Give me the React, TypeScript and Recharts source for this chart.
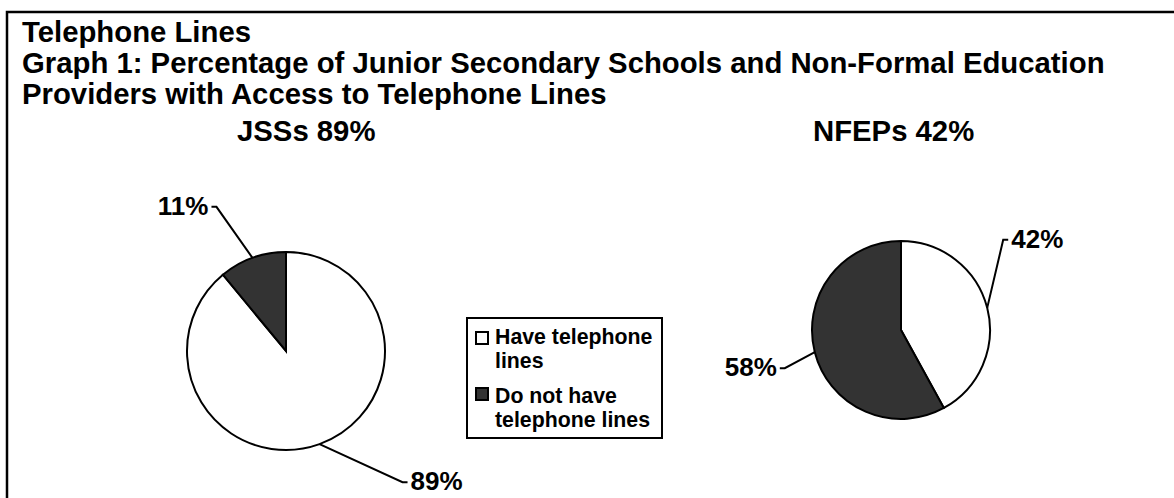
import { Pie, PieChart, Cell } from "recharts";

/* Two Excel-style pies with leader-line labels, boxed legend in the middle. */

const titleLines = [
  "Telephone Lines",
  "Graph 1: Percentage of Junior Secondary Schools and Non-Formal Education",
  "Providers with Access to Telephone Lines",
];
const pieTitles = ["JSSs 89%", "NFEPs 42%"];
const categories = ["Have telephone lines", "Do not have telephone lines"];
const legendLines = [["Have telephone", "lines"], ["Do not have", "telephone lines"]];
const jssValues = [89, 11];
const nfepValues = [42, 58];

const FILLS = ["#FFFFFF", "#333333"];
const FONT = "'Liberation Sans', Arial, sans-serif";
const RAD = Math.PI / 180;

const jssData = categories.map((name, i) => ({ name, value: jssValues[i] }));
const nfepData = categories.map((name, i) => ({ name, value: nfepValues[i] }));

// where each label's leader line bends, relative to the slice edge
const jssLeaders = [
  { dx: 83, dy: 38 },
  { dx: -36, dy: -51 },
];
const nfepLeaders = [
  { dx: 16, dy: -68 },
  { dx: -30, dy: 16 },
];

function leaderLabel(leaders: { dx: number; dy: number }[]) {
  return (props: any) => {
    const { cx, cy, midAngle, outerRadius, index, value } = props;
    const x0 = cx + outerRadius * Math.cos(-midAngle * RAD);
    const y0 = cy + outerRadius * Math.sin(-midAngle * RAD);
    const { dx, dy } = leaders[index];
    const x1 = x0 + dx;
    const y1 = y0 + dy;
    const dir = dx >= 0 ? 1 : -1;
    const x2 = x1 + dir * 5;
    return (
      <g>
        <polyline points={`${x0},${y0} ${x1},${y1} ${x2},${y1}`} fill="none" stroke="#000" strokeWidth={2} />
        <text
          x={x2 + dir * 3}
          y={y1 + 8}
          textAnchor={dir > 0 ? "start" : "end"}
          fontFamily={FONT}
          fontWeight={700}
          fontSize={26}
          fill="#000"
        >
          {value}%
        </text>
      </g>
    );
  };
}

export default function App() {
  return (
    <div style={{ position: "absolute", left: 0, top: 0, width: 1174, height: 498, background: "#fff" }}>
      <svg width={1174} height={498} style={{ position: "absolute", left: 0, top: 0 }}>
        <path d="M7,498 L7,12 L1174,12" fill="none" stroke="#000" strokeWidth={2.5} />
        {titleLines.map((t, i) => (
          <text key={t} x={22} y={42 + i * 31} fontFamily={FONT} fontWeight={700} fontSize={29.3} fill="#000">
            {t}
          </text>
        ))}
        <text x={237} y={141} fontFamily={FONT} fontWeight={700} fontSize={29.3} fill="#000">
          {pieTitles[0]}
        </text>
        <text x={813} y={141} fontFamily={FONT} fontWeight={700} fontSize={29.3} fill="#000">
          {pieTitles[1]}
        </text>
        <rect x={467} y={318} width={195} height={120} fill="#fff" stroke="#000" strokeWidth={2} />
        {legendLines.map((lines, i) => (
          <g key={i}>
            <rect x={476} y={332 + i * 56} width={12} height={12} fill={FILLS[i]} stroke="#000" strokeWidth={2} />
            {lines.map((l, j) => (
              <text key={l} x={495} y={344 + i * 59 + j * 24} fontFamily={FONT} fontWeight={700} fontSize={21.3} fill="#000">
                {l}
              </text>
            ))}
          </g>
        ))}
      </svg>
      <div style={{ position: "absolute", left: 0, top: 0 }}>
        <PieChart width={1174} height={498} margin={{ top: 0, right: 0, bottom: 0, left: 0 }}>
          <Pie
            data={jssData}
            dataKey="value"
            cx={286}
            cy={351}
            outerRadius={99}
            startAngle={90}
            endAngle={-270}
            stroke="#000"
            strokeWidth={2}
            label={leaderLabel(jssLeaders)}
            labelLine={false}
            isAnimationActive={false}
          >
            {jssData.map((d, i) => (
              <Cell key={d.name} fill={FILLS[i]} />
            ))}
          </Pie>
          <Pie
            data={nfepData}
            dataKey="value"
            cx={901}
            cy={330}
            outerRadius={89}
            startAngle={90}
            endAngle={-270}
            stroke="#000"
            strokeWidth={2}
            label={leaderLabel(nfepLeaders)}
            labelLine={false}
            isAnimationActive={false}
          >
            {nfepData.map((d, i) => (
              <Cell key={d.name} fill={FILLS[i]} />
            ))}
          </Pie>
        </PieChart>
      </div>
    </div>
  );
}
